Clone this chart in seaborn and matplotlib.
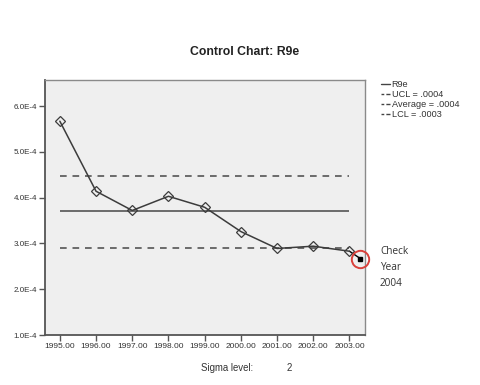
import matplotlib
matplotlib.use("Agg")
import matplotlib.pyplot as plt
import seaborn as sns
import pandas as pd
from matplotlib.lines import Line2D

years = [1995, 1996, 1997, 1998, 1999, 2000, 2001, 2002, 2003]
values = [5.67e-4, 4.14e-4, 3.72e-4, 4.03e-4, 3.79e-4, 3.26e-4, 2.89e-4, 2.94e-4, 2.83e-4]
ucl = 4.48e-4
average = 3.70e-4
lcl = 2.91e-4
check_x = 2003.3
check_value = 2.67e-4
ytick_vals = [1e-4, 2e-4, 3e-4, 4e-4, 5e-4, 6e-4]
ytick_labels = ["1.0E-4", "2.0E-4", "3.0E-4", "4.0E-4", "5.0E-4", "6.0E-4"]
xtick_labels = [f"{y}.00" for y in years]
legend_labels = ["R9e", "UCL = .0004", "Average = .0004", "LCL = .0003"]

sns.set_theme(style="white")
plt.rcParams["font.family"] = ["Liberation Sans", "DejaVu Sans"]

df = pd.DataFrame({"year": years, "value": values})

fig = plt.figure(figsize=(4.81, 3.85), dpi=100)
ax = fig.add_axes([45/481, 1-335/385, 320/481, 255/385])
ax.set_facecolor("#efefef")

line_col = "#3c3c3c"
ax.hlines(ucl, years[0], years[-1], colors="#555555", linestyles=(0, (4, 3.5)), linewidth=1.2)
ax.hlines(lcl, years[0], years[-1], colors="#555555", linestyles=(0, (4, 3.5)), linewidth=1.2)
ax.hlines(average, years[0], years[-1], colors="#555555", linestyles="-", linewidth=1.2)

# extension to check point
ax.plot([years[-1], check_x], [values[-1], check_value], color="black", linewidth=1.0, zorder=3)
ax.plot([check_x], [check_value], marker="s", markersize=3.5, color="black", zorder=5)
ax.plot([check_x], [check_value], marker="o", markersize=12.5, markerfacecolor="none",
        markeredgecolor="#d9413b", markeredgewidth=1.4, clip_on=False, zorder=6)

sns.lineplot(data=df, x="year", y="value", ax=ax, color=line_col, linewidth=1.1,
             marker="D", markersize=5.3, markerfacecolor="none",
             markeredgecolor=line_col, markeredgewidth=0.9, zorder=4)

ax.set_xlim(1994.59, 2003.43)
ax.set_ylim(1.0e-4, 6.57e-4)
ax.set_xticks(years)
ax.set_xticklabels(xtick_labels, fontsize=6.0, color="#333333")
ax.set_yticks(ytick_vals)
ax.set_yticklabels(ytick_labels, fontsize=5.8, color="#333333")
ax.set_xlabel("")
ax.set_ylabel("")
ax.tick_params(axis="both", which="both", direction="out", length=4, width=1,
               color="#555555", pad=1.5, left=True, bottom=True)
for side, sp in ax.spines.items():
    sp.set_color("#8a8a8a")
    sp.set_linewidth(1.0)
ax.spines["left"].set_color("#555555")
ax.spines["left"].set_linewidth(1.3)
ax.spines["bottom"].set_color("#555555")
ax.spines["bottom"].set_linewidth(1.3)

fig.text(245/481, 1-52/385, "Control Chart: R9e", ha="center", va="center",
         fontsize=8.8, fontweight="bold", color="#222222")
fig.text(201/481, 1-368/385, "Sigma level:", ha="left", va="center", fontsize=6.9, color="#333333")
fig.text(287/481, 1-368/385, "2", ha="left", va="center", fontsize=6.9, color="#333333")

for i, t in enumerate(["Check", "Year", "2004"]):
    fig.text(380/481, 1-(252 + 16*i)/385, t, ha="left", va="center", fontsize=7.2,
             color="#333333", family=["Open Sans", "DejaVu Sans"])

handles = [
    Line2D([], [], color="#444444", linestyle="-", linewidth=1.0),
    Line2D([], [], color="#444444", linestyle=(0, (2, 1.5, 3, 1.5)), linewidth=1.0),
    Line2D([], [], color="#444444", linestyle=(0, (2, 1.5, 3, 1.5)), linewidth=1.0),
    Line2D([], [], color="#444444", linestyle=(0, (2, 1.5, 3, 1.5)), linewidth=1.0),
]
fig.legend(handles, legend_labels, loc="upper left", bbox_to_anchor=(381/481, 1-80/385),
           frameon=False, fontsize=6.6, handlelength=1.0, handletextpad=0.15,
           labelspacing=0.1, borderaxespad=0, borderpad=0, labelcolor="#333333")

fig.savefig("out.png", dpi=100)
